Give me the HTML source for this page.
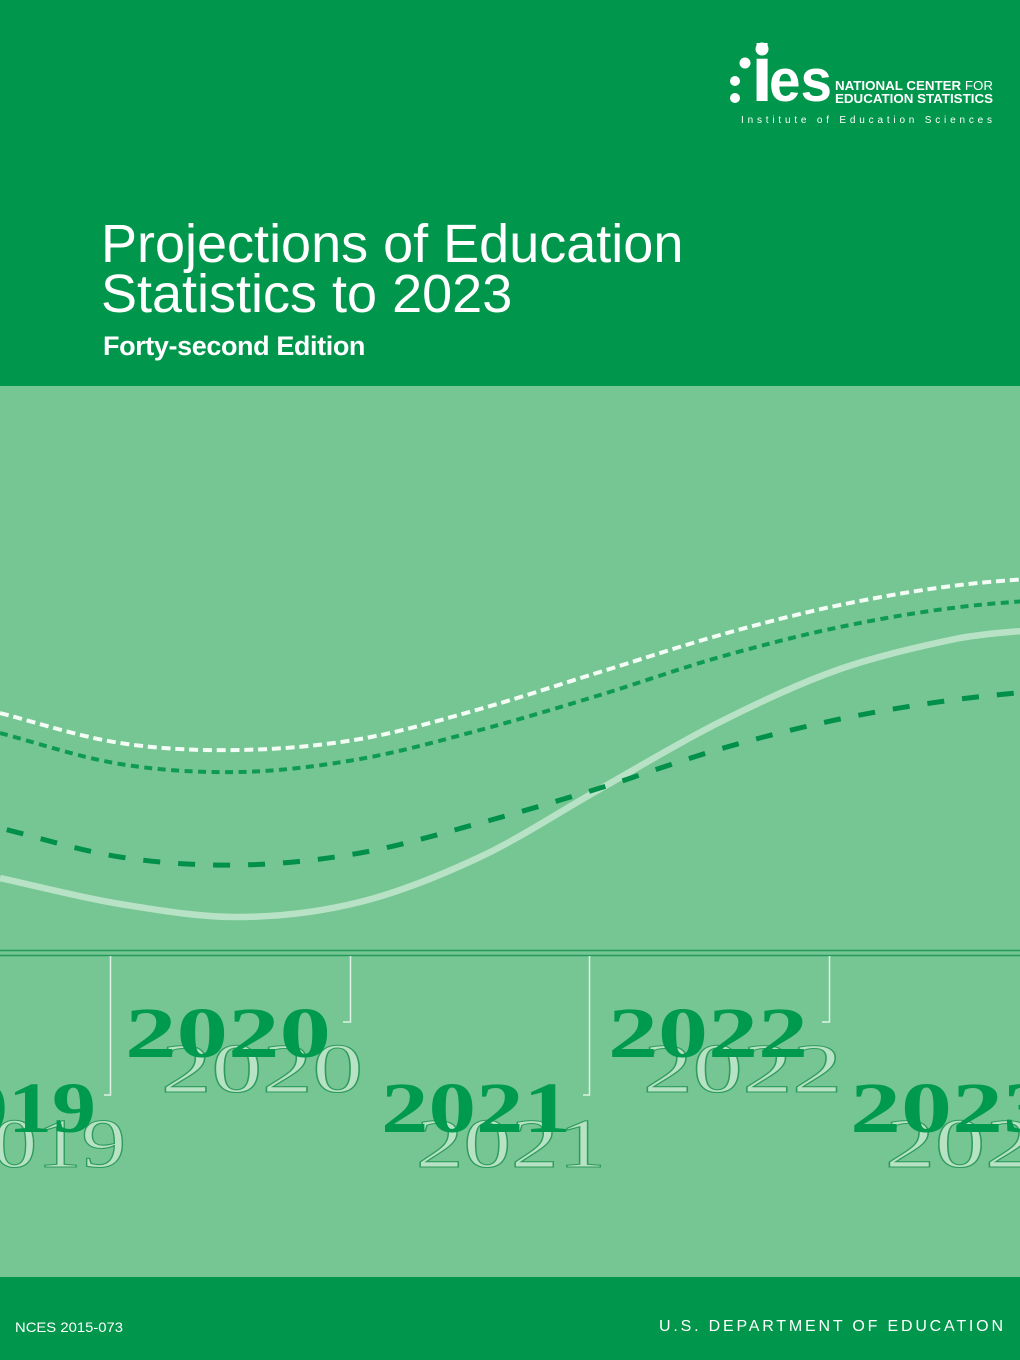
<!DOCTYPE html>
<html>
<head>
<meta charset="utf-8">
<style>
  html, body { margin: 0; padding: 0; background: #75C692; }
  svg { display: block; }
</style>
</head>
<body>
<svg xmlns="http://www.w3.org/2000/svg" width="1020" height="1360" viewBox="0 0 1020 1360">
  <!-- backgrounds -->
  <rect x="0" y="0" width="1020" height="1360" fill="#75C692"/>
  <rect x="0" y="0" width="1020" height="386" fill="#00964B"/>
  <rect x="0" y="1277" width="1020" height="83" fill="#00964B"/>

  <!-- logo -->
  <g fill="#FFFFFF">
    <circle cx="745" cy="63" r="5.5"/>
    <circle cx="735" cy="81" r="5"/>
    <circle cx="735" cy="98" r="5"/>
    <text x="751" y="101" font-family="Liberation Sans, sans-serif" font-weight="bold" font-size="80">i</text>
    <circle cx="762" cy="49" r="6.5"/>
    <text x="769" y="101" font-family="Liberation Sans, sans-serif" font-weight="bold" font-size="60" textLength="63" lengthAdjust="spacingAndGlyphs">es</text>
    <text x="835" y="90" font-family="Liberation Sans, sans-serif" font-weight="bold" font-size="13" textLength="158" lengthAdjust="spacingAndGlyphs">NATIONAL CENTER <tspan font-weight="normal">FOR</tspan></text>
    <text x="835" y="103" font-family="Liberation Sans, sans-serif" font-weight="bold" font-size="13" textLength="158" lengthAdjust="spacingAndGlyphs">EDUCATION STATISTICS</text>
    <text x="741" y="123" font-family="Liberation Sans, sans-serif" font-size="10" textLength="251" lengthAdjust="spacing">Institute of Education Sciences</text>
  </g>

  <!-- title -->
  <g fill="#FFFFFF" font-family="Liberation Sans, sans-serif">
    <text x="101" y="262" font-size="54">Projections of Education</text>
    <text x="101" y="312" font-size="54">Statistics to 2023</text>
    <text x="103" y="355" font-size="27" font-weight="bold" letter-spacing="-0.4">Forty-second Edition</text>
  </g>

  <!-- curves -->
  <g fill="none" stroke-linejoin="round">
    <path stroke="#B8E2C6" stroke-width="6.5"
      d="M0,878 C40,886.7 80,897.5 120,904 C160,910.5 200,917.3 240,917 C280,916.7 320,912 360,902 C400,892 440,875.8 480,857 C520,838.2 560,811.5 600,789 C640,766.5 680,742 720,722 C760,702 800,683 840,669 C880,655 930,644.2 960,638 C1000,631.2 1040,630 1080,628"/>
    <path stroke="#F4FCF6" stroke-width="4" stroke-dasharray="9 4.8"
      d="M0,713 C40,723.5 80,736.8 120,743 C160,749.2 200,750.7 240,750 C280,749.3 320,745.8 360,739 C400,732.2 440,720.2 480,709 C520,697.8 560,684.3 600,672 C640,659.7 680,646.2 720,635 C760,623.8 800,613.3 840,605 C880,596.7 920,589.8 960,585 C1000,580.2 1040,578.2 1080,576"/>
    <path stroke="#0E9A50" stroke-width="4" stroke-dasharray="8 5.5"
      d="M0,733 C40,743.7 80,757.5 120,764 C160,770.5 200,772.8 240,772 C280,771.2 320,766 360,759 C400,752 440,740.7 480,730 C520,719.3 560,707.2 600,695 C640,682.8 680,668.3 720,657 C760,645.7 800,635.3 840,627 C880,618.7 920,611.8 960,607 C1000,602.2 1040,600.2 1080,598"/>
    <path stroke="#00904A" stroke-width="5" stroke-dasharray="17 18" stroke-dashoffset="28"
      d="M0,828 C40,837.8 80,850.8 120,857 C160,863.2 200,865.7 240,865 C280,864.3 320,860 360,853 C400,846 440,833.8 480,823 C520,812.2 560,800.3 600,788 C640,775.7 680,760.5 720,749 C760,737.5 800,727.3 840,719 C880,710.7 920,704.2 960,699 C1000,693.8 1040,691.2 1080,688"/>
  </g>

  <!-- horizontal double rule -->
  <line x1="0" y1="950.5" x2="1020" y2="950.5" stroke="#23995A" stroke-width="1.6"/>
  <line x1="0" y1="955.5" x2="1020" y2="955.5" stroke="#23995A" stroke-width="1.6"/>

  <!-- brackets -->
  <g fill="none" stroke="#DDF2E4" stroke-width="1.5">
    <polyline points="110.5,956 110.5,1095 104,1095"/>
    <polyline points="350.5,956 350.5,1022 343,1022"/>
    <polyline points="589.5,956 589.5,1095 583,1095"/>
    <polyline points="829.5,956 829.5,1022 822,1022"/>
  </g>

  <!-- light (outlined) year numerals -->
  <g font-family="Liberation Serif, serif" font-size="70" fill="#B7E2C4" stroke="#2E9B5C" stroke-width="1.1">
    <text x="-52" y="1167" textLength="178" lengthAdjust="spacingAndGlyphs">2019</text>
    <text x="161" y="1092" textLength="202" lengthAdjust="spacingAndGlyphs">2020</text>
    <text x="416" y="1167" textLength="190" lengthAdjust="spacingAndGlyphs">2021</text>
    <text x="643" y="1092" textLength="199" lengthAdjust="spacingAndGlyphs">2022</text>
    <text x="885" y="1167" textLength="200" lengthAdjust="spacingAndGlyphs">2023</text>
  </g>

  <!-- dark year numerals -->
  <g font-family="Liberation Serif, serif" font-weight="bold" font-size="72" fill="#009A4E">
    <text x="-80" y="1132" textLength="176" lengthAdjust="spacingAndGlyphs">2019</text>
    <text x="125" y="1057" textLength="206" lengthAdjust="spacingAndGlyphs">2020</text>
    <text x="381" y="1132" textLength="190" lengthAdjust="spacingAndGlyphs">2021</text>
    <text x="608" y="1057" textLength="200" lengthAdjust="spacingAndGlyphs">2022</text>
    <text x="850" y="1132" textLength="204" lengthAdjust="spacingAndGlyphs">2023</text>
  </g>

  <!-- footer -->
  <g fill="#FFFFFF" font-family="Liberation Sans, sans-serif">
    <text x="15" y="1332" font-size="14" textLength="108" lengthAdjust="spacingAndGlyphs">NCES 2015-073</text>
    <text x="659" y="1331" font-size="16" textLength="344" lengthAdjust="spacing">U.S. DEPARTMENT OF EDUCATION</text>
  </g>
</svg>
</body>
</html>
